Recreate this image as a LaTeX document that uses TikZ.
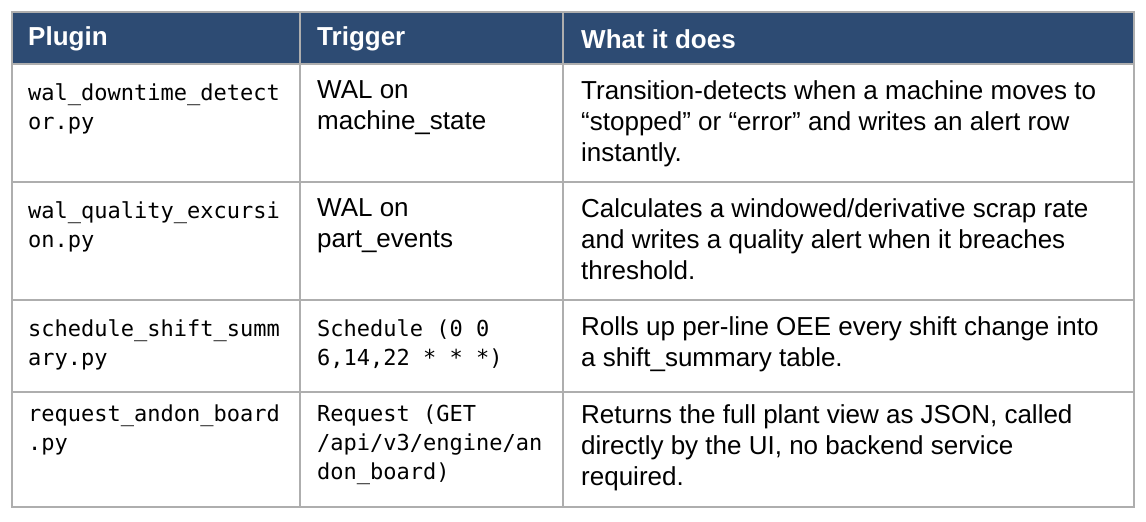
\documentclass[tikz,border=0pt]{standalone}
\usepackage{fontspec}
\setmainfont{Liberation Sans}
\setmonofont{DejaVu Sans Mono}
\begin{document}
\begin{tikzpicture}[x=1pt,y=-1pt,
  cell/.style={anchor=north west,inner sep=0pt,align=left,font=\fontsize{26}{31}\selectfont},
  mono/.style={cell,font=\ttfamily\fontsize{22}{29}\selectfont},
  head/.style={anchor=west,inner sep=0pt,text=white,font=\bfseries\fontsize{26}{30}\selectfont}]
\definecolor{hdr}{HTML}{2D4B73}
\definecolor{grid}{HTML}{AEAEAE}
\useasboundingbox (0,0) rectangle (1146,522);
\fill[hdr] (12,12) rectangle (1134,64);
\draw[grid,line width=1.2pt] (12,12) rectangle (1134,507);
\foreach \y in {64,182,300,392} \draw[grid,line width=1.2pt] (12,\y) -- (1134,\y);
\foreach \x in {300,563} \draw[grid,line width=1.2pt] (\x,12) -- (\x,507);
\node[head] (h1) at (28,39) {Plugin};
\node[head] (h2) at (317,39) {Trigger};
\node[head] (h3) at (581,39) {What it does};
% row 1
\node[mono] (a1) at (28,83) {wal\_downtime\_detect\\or.py};
\node[cell] (b1) at (317,80) {WAL on\\machine\_state};
\node[cell] (c1) at (581,80) {Transition-detects when a machine moves to\\“stopped” or “error” and writes an alert row\\instantly.};
% row 2
\node[mono] (a2) at (28,201) {wal\_quality\_excursi\\on.py};
\node[cell] (b2) at (317,198) {WAL on\\part\_events};
\node[cell] (c2) at (581,198) {Calculates a windowed/derivative scrap rate\\and writes a quality alert when it breaches\\threshold.};
% row 3
\node[mono] (a3) at (28,319) {schedule\_shift\_summ\\ary.py};
\node[mono] (b3) at (317,319) {Schedule (0 0\\6,14,22 * * *)};
\node[cell] (c3) at (581,316) {Rolls up per-line OEE every shift change into\\a shift\_summary table.};
% row 4
\node[mono] (a4) at (28,405) {request\_andon\_board\\.py};
\node[mono] (b4) at (317,405) {Request (GET\\/api/v3/engine/an\\don\_board)};
\node[cell] (c4) at (581,404) {Returns the full plant view as JSON, called\\directly by the UI, no backend service\\required.};
\end{tikzpicture}
\end{document}
